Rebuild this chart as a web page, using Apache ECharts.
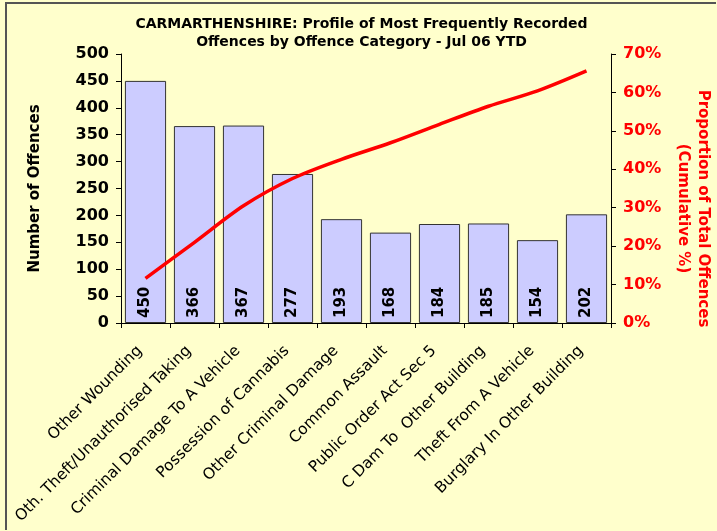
<!doctype html>
<html lang="en">
<head>
    <meta charset="utf-8">
    <title>Carmarthenshire offences</title>
    <style type="text/css">
        html, body { margin: 0; padding: 0; background: #FFFFCC; }
        #chart {
            width: 711px;
            height: 528px;
            margin-left: 5px;
            margin-top: 2px;
            border-left: 2px solid #555;
            border-top: 2px solid #555;
            box-sizing: border-box;
        }
    </style>
</head>
<body>
    <div id="chart"></div>
    <script src="https://cdn.jsdelivr.net/npm/echarts@6/dist/echarts.min.js"></script>
    <script>
        let categories = ['Other Wounding', 'Oth. Theft/Unauthorised Taking', 'Criminal Damage To A Vehicle',
            'Possession of Cannabis', 'Other Criminal Damage', 'Common Assault', 'Public Order Act Sec 5',
            'C Dam To  Other Building', 'Theft From A Vehicle', 'Burglary In Other Building'];
        let offences = [450, 366, 367, 277, 193, 168, 184, 185, 154, 202];
        // cumulative share of all offences
        let cumulative = [11.6, 21.0, 30.5, 37.6, 42.6, 46.9, 51.7, 56.4, 60.4, 65.6];
        let countTicks = [0, 500, 50];
        let pctTicks = [0, 70, 10];

        let myChart = echarts.init(document.getElementById('chart'));
        let font = 'DejaVu Sans, Verdana, sans-serif';
        let option = {
            animation: false,
            backgroundColor: '#FFFFCC',
            textStyle: { fontFamily: font },
            title: {
                text: 'CARMARTHENSHIRE: Profile of Most Frequently Recorded\nOffences by Offence Category - Jul 06 YTD',
                left: 'center',
                top: 6,
                textStyle: { fontSize: 14, fontWeight: 'bold', color: '#000', lineHeight: 18, fontFamily: font }
            },
            grid: { left: 114, right: 105, top: 50, bottom: 207, outerBoundsMode: 'none', containLabel: false },
            xAxis: {
                type: 'category',
                data: categories,
                axisLine: { lineStyle: { color: '#000', width: 1 } },
                axisTick: { show: true, length: 5, alignWithLabel: false, lineStyle: { color: '#000' } },
                axisLabel: {
                    rotate: 45, interval: 0, fontSize: 15.5, color: '#000', margin: 31,
                    verticalAlign: 'bottom', fontFamily: font
                }
            },
            yAxis: [{
                type: 'value',
                min: countTicks[0],
                max: countTicks[1],
                interval: countTicks[2],
                name: 'Number of Offences',
                nameLocation: 'middle',
                nameGap: 78,
                nameRotate: 90,
                nameMoveOverlap: false,
                nameTextStyle: { fontSize: 15, fontWeight: 'bold', color: '#000', fontFamily: font },
                splitLine: { show: false },
                axisLine: { show: true, lineStyle: { color: '#000' } },
                axisTick: { show: true, length: 5, lineStyle: { color: '#000' } },
                axisLabel: { fontSize: 16, fontWeight: 'bold', color: '#000', margin: 12, fontFamily: font }
            }, {
                type: 'value',
                min: pctTicks[0],
                max: pctTicks[1],
                interval: pctTicks[2],
                position: 'right',
                name: 'Proportion of Total Offences\n(Cumulative %)',
                nameLocation: 'middle',
                nameGap: 62,
                nameRotate: -90,
                nameMoveOverlap: false,
                nameTextStyle: {
                    fontSize: 15, fontWeight: 'bold', color: '#FF0000', lineHeight: 20,
                    padding: [0, 0, 0, 40], fontFamily: font
                },
                splitLine: { show: false },
                axisLine: { show: true, lineStyle: { color: '#000' } },
                axisTick: { show: true, length: 5, lineStyle: { color: '#000' } },
                axisLabel: { fontSize: 16, fontWeight: 'bold', color: '#FF0000', margin: 12, formatter: '{value}%', fontFamily: font }
            }],
            series: [{
                name: 'Number of Offences',
                type: 'bar',
                data: offences,
                barCategoryGap: '16%',
                itemStyle: { color: '#CCCCFF', borderColor: '#333', borderWidth: 1 },
                label: {
                    show: true,
                    position: 'insideBottom',
                    rotate: 90,
                    align: 'left',
                    verticalAlign: 'middle',
                    distance: 5,
                    fontSize: 15,
                    fontWeight: 'bold',
                    color: '#000',
                    fontFamily: font
                }
            }, {
                name: 'Cumulative %',
                type: 'line',
                yAxisIndex: 1,
                data: cumulative,
                smooth: 0.3,
                showSymbol: false,
                lineStyle: { color: '#FF0000', width: 3.5 },
                z: 5
            }]
        };
        myChart.setOption(option);
    </script>
</body>
</html>
